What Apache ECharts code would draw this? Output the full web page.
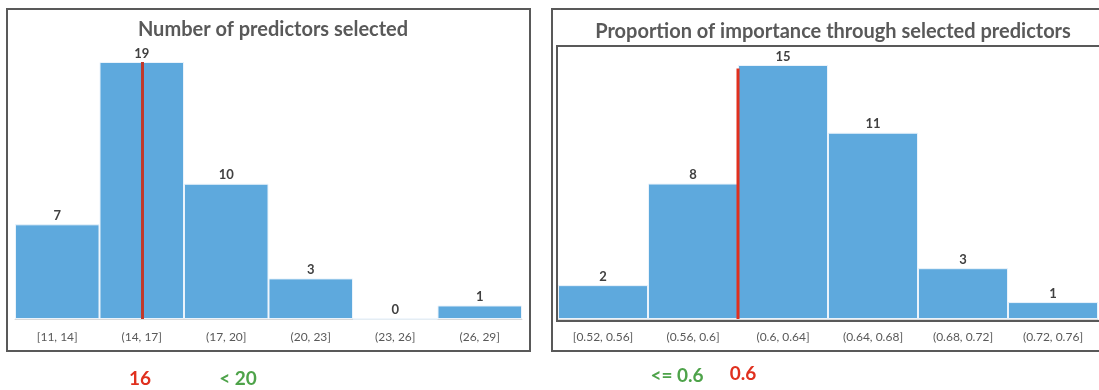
<!DOCTYPE html>
<html>
<head>
<meta charset="utf-8">
<script src="https://cdn.jsdelivr.net/npm/echarts@6/dist/echarts.min.js"></script>
<style>
  html, body { margin: 0; padding: 0; background: #fff; }
  #chart { width: 1099px; height: 390px; }
</style>
</head>
<body>
<div id="chart"></div>
<script>
// Histogram: number of predictors selected
const predictorBins = ['[11, 14]', '(14, 17]', '(17, 20]', '(20, 23]', '(23, 26]', '(26, 29]'];
const predictorCounts = [7, 19, 10, 3, 0, 1];
const predictorMarkerBin = '(14, 17]';
const predictorMarkerText = '16';
const predictorNoteText = '< 20';

// Histogram: proportion of importance through selected predictors
const importanceBins = ['[0.52, 0.56]', '(0.56, 0.6]', '(0.6, 0.64]', '(0.64, 0.68]', '(0.68, 0.72]', '(0.72, 0.76]'];
const importanceCounts = [2, 8, 15, 11, 3, 1];
const importanceRange = [0.52, 0.76];
const importanceMarker = 0.6;
const importanceMarkerText = '0.6';
const importanceNoteText = '<= 0.6';

const textGray = '#595959';
const barBlue = '#5EA9DD';
const font = 'Lato, "Open Sans", sans-serif';

const chart = echarts.init(document.getElementById('chart'));

const catAxis = (data, gridIndex) => ({
  type: 'category',
  gridIndex,
  data,
  axisTick: { show: false },
  axisLine: { show: true, lineStyle: { color: '#d9d9d9', width: 1 } },
  axisLabel: { color: textGray, fontSize: 12, fontFamily: font, margin: 12 }
});

const barLabel = {
  show: true,
  position: 'top',
  distance: 2,
  color: '#404040',
  fontSize: 13,
  fontWeight: 'bold',
  fontFamily: font
};

chart.setOption({
  animation: false,
  title: [
    {
      text: 'Number of predictors selected',
      left: 268, top: 15, textAlign: 'center',
      textStyle: { color: textGray, fontSize: 20, fontWeight: 'bold', fontFamily: font }
    },
    {
      text: 'Proportion of importance through selected predictors',
      left: 828, top: 17, textAlign: 'center',
      textStyle: { color: textGray, fontSize: 20, fontWeight: 'bold', fontFamily: font }
    }
  ],
  grid: [
    { left: 15, top: 62, width: 507, height: 257 },
    { left: 558, top: 65, width: 540, height: 254 }
  ],
  xAxis: [
    catAxis(predictorBins, 0),
    catAxis(importanceBins, 1),
    { type: 'value', gridIndex: 1, min: importanceRange[0], max: importanceRange[1], show: false }
  ],
  yAxis: [
    { type: 'value', gridIndex: 0, min: 0, max: Math.max(...predictorCounts), show: false },
    { type: 'value', gridIndex: 1, min: 0, max: Math.max(...importanceCounts), show: false }
  ],
  series: [
    {
      type: 'bar',
      xAxisIndex: 0, yAxisIndex: 0,
      data: predictorCounts,
      barCategoryGap: '0%',
      itemStyle: { color: barBlue, borderColor: '#eaf3fb', borderWidth: 1 },
      label: barLabel,
      markLine: {
        silent: true,
        symbol: 'none',
        label: { show: false },
        lineStyle: { color: '#c0392b', width: 3, type: 'solid' },
        data: [[
          { coord: [predictorMarkerBin, 0] },
          { coord: [predictorMarkerBin, predictorCounts[predictorBins.indexOf(predictorMarkerBin)]] }
        ]]
      }
    },
    {
      type: 'bar',
      xAxisIndex: 1, yAxisIndex: 1,
      data: importanceCounts,
      barCategoryGap: '0%',
      itemStyle: { color: barBlue, borderColor: '#eaf3fb', borderWidth: 1 },
      label: barLabel
    },
    {
      type: 'line',
      xAxisIndex: 2, yAxisIndex: 1,
      data: [[importanceMarker, 0], [importanceMarker, importanceCounts[2] - 0.2]],
      symbol: 'none',
      silent: true,
      lineStyle: { color: '#e0301e', width: 3 },
      z: 5
    }
  ],
  graphic: [
    { type: 'rect', shape: { x: 7, y: 9, width: 523, height: 342 },
      style: { fill: 'none', stroke: textGray, lineWidth: 2 }, z: 10 },
    { type: 'rect', shape: { x: 552, y: 9, width: 560, height: 342 },
      style: { fill: 'none', stroke: textGray, lineWidth: 2 }, z: 10 },
    { type: 'rect', shape: { x: 557, y: 46, width: 560, height: 275 },
      style: { fill: 'none', stroke: textGray, lineWidth: 2 }, z: 10 },
    { type: 'text', x: 140, y: 379,
      style: { text: predictorMarkerText, fill: '#e0301e', font: 'bold 19px ' + font, textAlign: 'center', textVerticalAlign: 'middle' } },
    { type: 'text', x: 238, y: 379,
      style: { text: predictorNoteText, fill: '#4ea34a', font: 'bold 19px ' + font, textAlign: 'center', textVerticalAlign: 'middle' } },
    { type: 'text', x: 677, y: 376,
      style: { text: importanceNoteText, fill: '#4ea34a', font: 'bold 19px ' + font, textAlign: 'center', textVerticalAlign: 'middle' } },
    { type: 'text', x: 743, y: 374,
      style: { text: importanceMarkerText, fill: '#e0301e', font: 'bold 19px ' + font, textAlign: 'center', textVerticalAlign: 'middle' } }
  ]
});
</script>
</body>
</html>
